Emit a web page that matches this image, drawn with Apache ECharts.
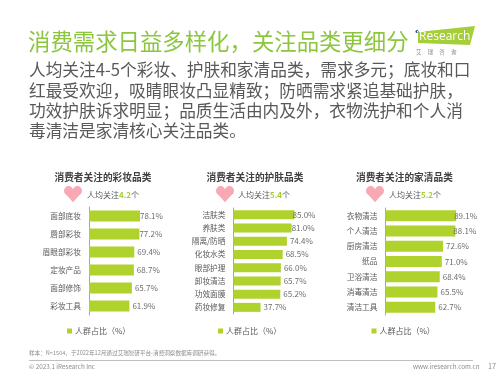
<!DOCTYPE html>
<html>
<head>
<meta charset="utf-8">
<style>
  html, body { margin: 0; padding: 0; background: #fff; }
  #chart { width: 500px; height: 374px; }
</style>
<script src="https://cdn.jsdelivr.net/npm/echarts@6/dist/echarts.min.js"></script>
</head>
<body>
<div id="chart"></div>
<script>
// 数据
const makeupCategories = ['面部底妆', '唇部彩妆', '眉眼部彩妆', '定妆产品', '面部修饰', '彩妆工具']
const makeupValues = [78.1, 77.2, 69.4, 68.7, 65.7, 61.9]
const skinCategories = ['洁肤类', '养肤类', '隔离/防晒', '化妆水类', '眼部护理', '卸妆清洁', '功效面膜', '药妆修复']
const skinValues = [85.0, 81.0, 74.4, 68.5, 66.0, 65.7, 65.2, 37.7]
const homeCategories = ['衣物清洁', '个人清洁', '厨房清洁', '纸品', '卫浴清洁', '消毒清洁', '清洁工具']
const homeValues = [89.1, 88.1, 72.6, 71.0, 68.4, 65.5, 62.7]
const seriesName = '人群占比（%）'

const FONT = '"Noto Sans CJK SC", sans-serif'
const GREEN = '#b0d22d'
const TEXT = '#595959'

const panels = [
  { cats: makeupCategories, vals: makeupValues, left: 89, top: 207, h: 108, pxPer: 0.653, barW: 11, gaps: [0, 0, 3, 3, 3, 3], legendLeft: 67, title: '消费者关注的彩妆品类', titleX: 54.5, heartX: 73, avgX: 87, avg: '4.2' },
  { cats: skinCategories, vals: skinValues, left: 233.5, top: 208, h: 106, pxPer: 0.718, barW: 9, gaps: [-2, 0, 3, 3, 3, 3, 3, 3], legendLeft: 218, title: '消费者关注的护肤品类', titleX: 206.5, heartX: 225, avgX: 238, avg: '5.4' },
  { cats: homeCategories, vals: homeValues, left: 385.5, top: 208, h: 107, pxPer: 0.793, barW: 11, gaps: [-2, -2, 3, 3, 3, 3, 3], legendLeft: 371.5, title: '消费者关注的家清品类', titleX: 356, heartX: 375, avgX: 389, avg: '5.2' },
]
const AXIS_MAX = 100

const grids = []
const xAxes = []
const yAxes = []
const series = []
const legends = []
const graphics = []

const txt = (x, y, text, fontSize, fill, extra) => ({
  type: 'text', x, y,
  style: Object.assign({ text, fontSize, fill, fontFamily: FONT, verticalAlign: 'middle' }, extra || {}),
})

// 爱心：两个圆 + 一个多边形
const heart = (cx) => ({
  type: 'group',
  x: cx,
  y: 192.7,
  children: [
    { type: 'circle', shape: { cx: -4.4, cy: -2, r: 4.6 }, style: { fill: '#f9a9b4' } },
    { type: 'circle', shape: { cx: 4.4, cy: -2, r: 4.6 }, style: { fill: '#f9a9b4' } },
    { type: 'polygon', shape: { points: [[-8.7, 0], [0, -2], [8.7, 0], [4, 5], [0, 9.5], [-4, 5]] }, style: { fill: '#f9a9b4' } },
  ],
})

panels.forEach((p, i) => {
  grids.push({ left: p.left, top: p.top, width: AXIS_MAX * p.pxPer, height: p.h })
  xAxes.push({ gridIndex: i, type: 'value', min: 0, max: AXIS_MAX, show: false })
  yAxes.push({
    gridIndex: i,
    type: 'category',
    inverse: true,
    data: p.cats,
    axisLine: { lineStyle: { color: '#a6a6a6', width: 1 } },
    axisTick: { show: false },
    axisLabel: { color: TEXT, fontSize: 7.7, fontFamily: FONT, margin: 8 },
  })
  series.push({
    name: seriesName,
    type: 'bar',
    xAxisIndex: i,
    yAxisIndex: i,
    barWidth: p.barW,
    itemStyle: { color: GREEN },
    data: p.vals.map((v, k) => ({
      value: v,
      label: { distance: p.gaps[k] },
    })),
    label: {
      show: true,
      position: 'right',
      color: '#6e6e6e',
      fontSize: 8,
      fontFamily: FONT,
      formatter: (o) => o.value.toFixed(1) + '%',
    },
    silent: true,
  })
  legends.push({
    data: [{ name: seriesName, icon: 'rect' }],
    left: p.legendLeft,
    top: 327,
    itemWidth: 5,
    itemHeight: 5,
    itemGap: 0,
    padding: 0,
    textStyle: { color: TEXT, fontSize: 8, fontFamily: FONT, padding: [0, 0, 0, -2] },
  })
  graphics.push(txt(p.titleX, 177.5, p.title, 9.7, '#404040', { fontWeight: 'bold' }))
  graphics.push(heart(p.heartX))
  graphics.push({
    type: 'text', x: p.avgX, y: 194.5,
    style: {
      rich: {
        a: { fontSize: 8, fill: TEXT, fontFamily: FONT },
        b: { fontSize: 8, fill: '#a6ce39', fontWeight: 'bold', fontFamily: FONT },
      },
      text: '{a|人均关注}{b|' + p.avg + '}{a|个}',
      verticalAlign: 'middle',
    },
  })
})

// 标题、正文、页脚
const bodyLines = [
  '人均关注4-5个彩妆、护肤和家清品类，需求多元；底妆和口',
  '红最受欢迎，吸睛眼妆凸显精致；防晒需求紧追基础护肤，',
  '功效护肤诉求明显；品质生活由内及外，衣物洗护和个人消',
  '毒清洁是家清核心关注品类。',
]
graphics.push(txt(28, 41.5, '消费需求日益多样化，关注品类更细分', 22.4, '#8cc63f'))
bodyLines.forEach((s, i) => graphics.push(txt(29, 70 + i * 20.3, s, 16.7, '#595959')))

// logo
graphics.push({
  type: 'polygon',
  shape: { points: [[418, 32], [475, 26], [470, 45], [418, 43]] },
  style: { fill: '#a6ce39' },
})
graphics.push({ type: 'circle', shape: { cx: 417, cy: 31.5, r: 1.5 }, style: { fill: '#1f4e9c' } })
graphics.push(txt(416, 37, 'iResearch', 12, '#fff', { fontFamily: '"Open Sans", sans-serif' }))
graphics.push(txt(416, 51.5, '艾     瑞     咨     询', 5.5, '#8c8c8c'))

graphics.push(txt(29, 352.5, '样本：N=1504，于2022年12月通过艾瑞智研平台-消费洞察数据库调研获得。', 5.6, '#8c8c8c'))
graphics.push({
  type: 'line',
  shape: { x1: 29, y1: 360.5, x2: 473, y2: 360.5 },
  style: { stroke: '#bfbfbf', lineWidth: 1 },
})
graphics.push(txt(29, 367, '© 2023.1 iResearch Inc', 6.3, '#8c8c8c'))
graphics.push(txt(413, 367, 'www.iresearch.com.cn', 6.3, '#8c8c8c'))
graphics.push(txt(488, 366.5, '17', 7.2, '#8c8c8c'))

const chart = echarts.init(document.getElementById('chart'), null, { renderer: 'canvas' })
chart.setOption({
  animation: false,
  backgroundColor: '#fff',
  grid: grids,
  xAxis: xAxes,
  yAxis: yAxes,
  legend: legends,
  series: series,
  graphic: { elements: graphics },
})
</script>
</body>
</html>
